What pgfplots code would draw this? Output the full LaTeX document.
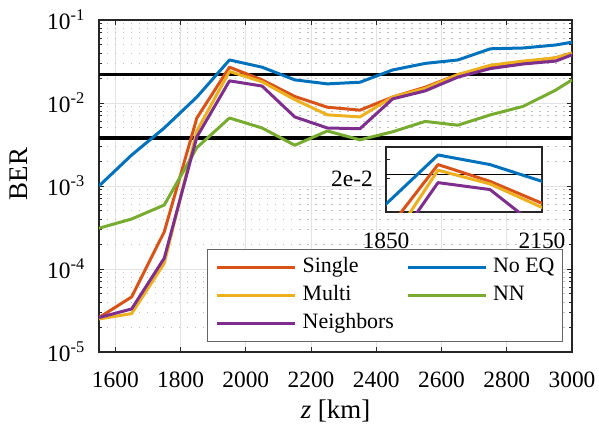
\documentclass[border=0pt]{standalone}
\usepackage{fontspec}
\setmainfont{Liberation Serif}
\usepackage{pgfplots}
\usepackage{pgfplotstable}
\pgfplotsset{compat=1.18}

\definecolor{cSingle}{rgb}{0.850,0.325,0.098}
\definecolor{cNoEQ}{rgb}{0.000,0.447,0.741}
\definecolor{cMulti}{rgb}{0.929,0.694,0.125}
\definecolor{cNN}{rgb}{0.466,0.674,0.188}
\definecolor{cNeigh}{rgb}{0.494,0.184,0.556}

% BER versus transmission distance for each equaliser
\pgfplotstableread{
z     single   noeq     multi    nn       neigh
1550  2.6e-5   1.0e-3   2.5e-5   3.1e-4   2.6e-5
1650  4.6e-5   2.36e-3  2.9e-5   4.0e-4   3.3e-5
1750  2.8e-4   5.0e-3   1.17e-4  5.9e-4   1.35e-4
1850  6.6e-3   1.18e-2  4.6e-3   2.9e-3   3.9e-3
1950  2.7e-2   3.3e-2   2.4e-2   6.6e-3   1.85e-2
2050  1.9e-2   2.7e-2   1.8e-2   5.0e-3   1.6e-2
2150  1.2e-2   1.9e-2   1.1e-2   3.1e-3   6.8e-3
2250  8.9e-3   1.7e-2   7.2e-3   4.6e-3   5.0e-3
2350  8.2e-3   1.78e-2  6.8e-3   3.6e-3   4.9e-3
2450  1.18e-2  2.5e-2   1.18e-2  4.5e-3   1.12e-2
2550  1.55e-2  3.0e-2   1.5e-2   6.0e-3   1.4e-2
2650  2.2e-2   3.3e-2   2.2e-2   5.4e-3   2.05e-2
2750  2.7e-2   4.5e-2   2.85e-2  7.2e-3   2.6e-2
2850  3.1e-2   4.6e-2   3.2e-2   9.1e-3   2.95e-2
2950  3.5e-2   5.0e-2   3.5e-2   1.43e-2  3.2e-2
3000  4.0e-2   5.4e-2   4.0e-2   1.9e-2   3.8e-2
}\bertable

\pgfplotsset{
  curve/.style={line width=3bp, line join=round},
  tickfont/.style={font=\fontsize{23.5}{28}\selectfont},
}

\begin{document}
\begin{tikzpicture}
\useasboundingbox (-99bp,-75bp) rectangle (500bp,352bp);

\begin{axis}[
  at={(0,0)}, anchor=south west,
  scale only axis, width=473bp, height=332bp,
  xmin=1550, xmax=3000,
  ymode=log, ymin=1e-5, ymax=1e-1,
  xtick={1600,1800,2000,2200,2400,2600,2800,3000},
  xticklabels={1600,1800,2000,2200,2400,2600,2800,3000},
  ytick={1e-5,1e-4,1e-3,1e-2,1e-1},
  yticklabels={10\textsuperscript{-5},10\textsuperscript{-4},10\textsuperscript{-3},10\textsuperscript{-2},10\textsuperscript{-1}},
  minor x tick num=0,
  tick align=inside,
  major tick length=5bp, minor tick length=3bp,
  axis line style={line width=1.5bp, black!85},
  every tick/.style={black!85, line width=1bp},
  xmajorgrids, ymajorgrids, yminorgrids,
  major grid style={gray!22, line width=1bp},
  minor grid style={gray!50, line width=1bp, dash pattern=on 1.5bp off 6.5bp},
  ticklabel style={tickfont},
  xticklabel style={inner sep=0pt, anchor=north, yshift=-20bp},
  yticklabel style={inner sep=0pt, anchor=east, xshift=-14bp},
  xlabel={\textit{z} [km]},
  ylabel={BER},
  every axis x label/.style={at={(axis description cs:0.5,0)}, anchor=base, yshift=-66bp, font=\fontsize{27}{32}\selectfont},
  every axis y label/.style={at={(axis description cs:0,0.5)}, xshift=-80bp, yshift=12bp, rotate=90, anchor=center, font=\fontsize{27}{32}\selectfont},
  legend columns=2,
  legend cell align=left,
  legend image code/.code={\draw[#1] (0bp,0bp) -- (78bp,0bp);},
  legend style={
    at={(axis description cs:1,0)}, anchor=south east,
    xshift=-9bp, yshift=10bp,
    draw=black!60, line width=1bp, fill=white,
    inner xsep=8bp, inner ysep=8bp,
    font=\fontsize{22}{26}\selectfont,
    nodes={inner sep=0pt, text height=15bp, text depth=5bp},
    row sep=8bp,
    /tikz/every odd column/.append style={column sep=6bp},
    /tikz/every even column/.append style={column sep=12bp},
  },
]
% FEC thresholds
\addplot[black, line width=3.5bp, forget plot] coordinates {(1550,2.2e-2) (3000,2.2e-2)};
\addplot[black, line width=3.5bp, forget plot] coordinates {(1550,3.8e-3) (3000,3.8e-3)};

\addplot[curve, cSingle] table[x=z, y=single] {\bertable};
\addlegendentry{Single}
\addplot[curve, cNoEQ]   table[x=z, y=noeq]   {\bertable};
\addlegendentry{No EQ}
\addplot[curve, cMulti]  table[x=z, y=multi]  {\bertable};
\addlegendentry{Multi}
\addplot[curve, cNN]     table[x=z, y=nn]     {\bertable};
\addlegendentry{NN}
\addplot[curve, cNeigh]  table[x=z, y=neigh]  {\bertable};
\addlegendentry{Neighbors}
\end{axis}

% zoom on the peak region
\begin{axis}[
  at={(287bp,140bp)}, anchor=south west,
  scale only axis, width=156bp, height=65bp,
  xmin=1850, xmax=2150,
  ymode=log, ymin=1e-2, ymax=3.9e-2,
  xtick={1850,2150}, xticklabels={1850,2150},
  ytick={2e-2,3e-2}, yticklabels={2e-2,{}},
  minor ytick={}, minor x tick num=0,
  xtick pos=bottom, ytick pos=left,
  tick align=inside,
  major tick length=4bp,
  axis line style={line width=1.5bp, black!85},
  every tick/.style={black!85, line width=1bp},
  axis background/.style={fill=white},
  ticklabel style={tickfont},
  xticklabel style={inner sep=0pt, anchor=north, yshift=-21bp},
  yticklabel style={inner sep=0pt, anchor=east, xshift=-13bp},
]
\addplot[black, line width=1bp] coordinates {(1850,2.2e-2) (2150,2.2e-2)};
\addplot[curve, cSingle] table[x=z, y=single] {\bertable};
\addplot[curve, cNoEQ]   table[x=z, y=noeq]   {\bertable};
\addplot[curve, cMulti]  table[x=z, y=multi]  {\bertable};
\addplot[curve, cNN]     table[x=z, y=nn]     {\bertable};
\addplot[curve, cNeigh]  table[x=z, y=neigh]  {\bertable};
\end{axis}
\end{tikzpicture}
\end{document}
